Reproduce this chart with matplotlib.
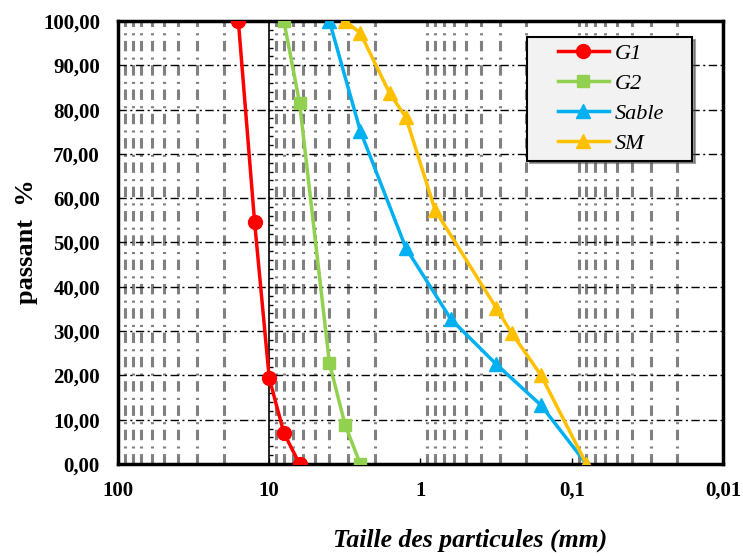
import numpy as np
import matplotlib.pyplot as plt
from matplotlib.ticker import FixedLocator, MultipleLocator, FuncFormatter
from matplotlib.legend_handler import HandlerLine2D

plt.rcParams['font.family'] = ['Liberation Serif', 'DejaVu Serif']
plt.rcParams['lines.scale_dashes'] = False

# granulometrie : taille (mm) / passant (%)
g1_x = [16, 12.5, 10, 8, 6.3]
g1_y = [100, 54.7, 19.4, 7.0, 0]
g2_x = [8, 6.3, 4, 3.15, 2.5]
g2_y = [100, 81.5, 22.8, 8.8, 0]
sable_x = [4, 2.5, 1.25, 0.63, 0.315, 0.16, 0.08]
sable_y = [100, 75.2, 48.8, 32.7, 22.5, 13.3, 0]
sm_x = [3.15, 2.5, 1.6, 1.25, 0.8, 0.315, 0.25, 0.16, 0.08]
sm_y = [100, 97.3, 83.7, 78.3, 57.3, 35.2, 29.6, 20.1, 0]

xticks = [100, 10, 1, 0.1, 0.01]
xticklabels = ['100', '10', '1', '0,1', '0,01']
yticks = np.arange(0, 101, 10)

fig = plt.figure(figsize=(7.43, 5.56), dpi=100)
ax = fig.add_axes([0.1588, 0.1655, 0.8142, 0.7967])

ax.set_xscale('log')
ax.set_xlim(100, 0.01)
ax.set_ylim(0, 100)

# grilles
minor = [m * 10.0 ** e for e in range(-2, 2) for m in range(2, 10)]
ax.xaxis.set_minor_locator(FixedLocator(minor))
ax.xaxis.set_major_locator(FixedLocator(xticks))
ax.set_xticklabels(xticklabels)
ax.yaxis.set_major_locator(FixedLocator(yticks))
ax.yaxis.set_major_formatter(FuncFormatter(lambda v, p: f"{v:.2f}".replace('.', ',')))
ax.xaxis.set_minor_formatter(FuncFormatter(lambda v, p: ''))

ax.grid(True, which='minor', axis='x', color='#808080', lw=2.2,
        linestyle=(0, (7.5, 4.0, 1.5, 4.5)))
ax.grid(True, which='major', axis='y', color='black', lw=1.0,
        linestyle=(0, (6, 2.5, 1.5, 2.5)))
ax.set_axisbelow(True)

ax.tick_params(axis='x', which='major', direction='in', length=4, width=1,
               pad=12, labelsize=15)
ax.tick_params(axis='x', which='minor', length=0)
ax.tick_params(axis='y', which='major', length=0, pad=13, labelsize=15)
for lab in ax.get_xticklabels() + ax.get_yticklabels():
    lab.set_fontweight('bold')

for s in ax.spines.values():
    s.set_linewidth(2.5)

# axe vertical qui croise a 10 mm
sec = ax.secondary_yaxis(0.25)
sec.spines['left'].set_linewidth(1.2)
sec.yaxis.set_major_locator(MultipleLocator(2))
sec.tick_params(axis='y', direction='in', length=3, width=1, labelleft=False)

ax.plot(g1_x, g1_y, color='#FF0000', lw=2.5, marker='o', ms=10, label='G1', zorder=5)
ax.plot(g2_x, g2_y, color='#92D050', lw=2.5, marker='s', ms=9, label='G2', zorder=5)
ax.plot(sable_x, sable_y, color='#00B0F0', lw=2.5, marker='^', ms=10, label='Sable', zorder=5)
ax.plot(sm_x, sm_y, color='#FFC000', lw=2.5, marker='^', ms=10, label='SM', zorder=5)


# symbole de legende decale a droite (blanc a gauche comme dans Excel)
def decale(h, o):
    h.update_from(o)
    x = np.asarray(h.get_xdata(), dtype=float)
    xmax = x.max()
    h.set_xdata(xmax - (xmax - x) * 0.68)


leg = ax.legend(loc='upper left', bbox_to_anchor=(0.676, 0.964, 0.273, 0.0),
                mode='expand', borderaxespad=0,
                fancybox=False, shadow=True, facecolor='#F2F2F2', edgecolor='black',
                framealpha=1,
                prop={'family': 'Liberation Serif', 'style': 'italic', 'size': 16},
                handlelength=3.4, labelspacing=0.42, borderpad=0.3, handletextpad=0.25,
                handler_map={plt.Line2D: HandlerLine2D(update_func=decale)})
leg.get_frame().set_linewidth(1.5)

fig.text(470 / 743, 1 - 540 / 556, 'Taille des particules (mm)', ha='center', va='center',
         fontsize=18.5, fontweight='bold', style='italic')
fig.text(27 / 743, 1 - 242 / 556, 'passant  %', ha='center', va='center', rotation=90,
         fontsize=19, fontweight='bold')

fig.savefig('out.png', dpi=100)
